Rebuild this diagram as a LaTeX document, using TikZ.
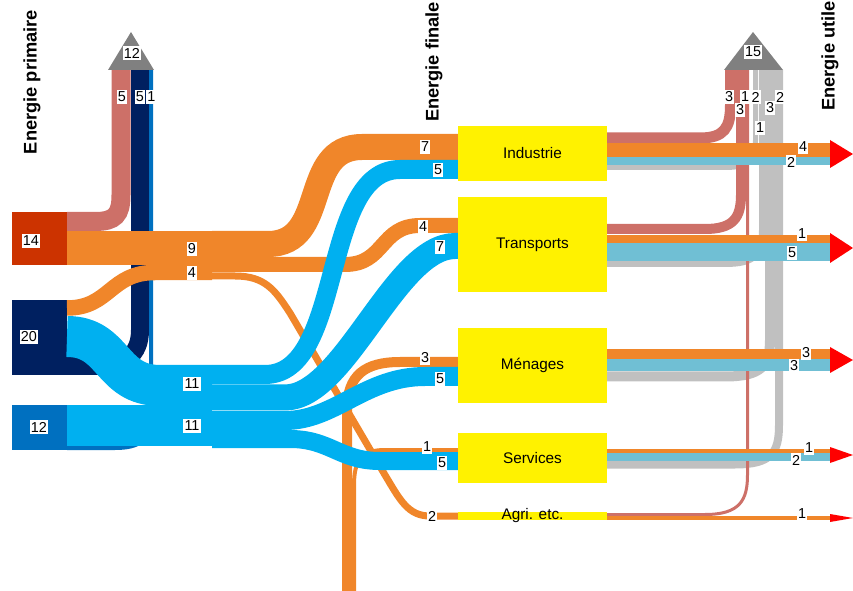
\documentclass[tikz,border=0pt]{standalone}
\usepackage{fontspec}
\setmainfont{Liberation Sans}
\definecolor{oilred}{HTML}{CC3300}
\definecolor{coalnavy}{HTML}{002060}
\definecolor{gasblue}{HTML}{0070C0}
\definecolor{fuelorange}{HTML}{F0862A}
\definecolor{elecblue}{HTML}{00B0F0}
\definecolor{losspink}{HTML}{CD7068}
\definecolor{lossgray}{HTML}{C0C0C0}
\definecolor{usefulblue}{HTML}{70BFD4}
\definecolor{trigray}{HTML}{808080}
\tikzset{
  bw/.style={line width=#1*0.75pt},
  num/.style={fill=white, inner xsep=0.8pt, inner ysep=1.2pt, font=\fontsize{10.8}{11}\selectfont},
  finbox/.style={fill=yellow, minimum width=111.75pt, inner sep=0pt, font=\fontsize{11.5}{12}\selectfont},
  srcbox/.style={minimum width=41.25pt, inner sep=0pt},
  stagetitle/.style={rotate=90, font=\fontsize{13.7}{14}\selectfont\bfseries},
  arrowhead/.style={fill=red}
}
\begin{document}
\begin{tikzpicture}[x=0.75pt, y=-0.75pt]
	\useasboundingbox (0,0) rectangle (853,591);
	% pertes, cote primaire
	\draw[losspink, bw=19] (67,221.5) -- (95,221.5) .. controls (115,221.5) and (121,215) .. (121,195) -- (121,70);
	\draw[coalnavy, bw=18] (67,366) -- (95,366) .. controls (125,366) and (140,355) .. (140,330) -- (140,70);
	\draw[gasblue, bw=4] (67,448) -- (115,448) .. controls (140,448) and (151,440) .. (151,415) -- (151,70);
	\fill[trigray] (108,70) -- (131,32) -- (154,70) -- cycle;
	% pertes, cote final
	\draw[lossgray, bw=5] (607,167.5) -- (725,167.5) .. controls (750,167.5) and (755.5,160) .. (755.5,140) -- (755.5,70);
	\draw[lossgray, bw=6] (607,264) -- (725,264) .. controls (755,264) and (762,255) .. (762,230) -- (762,70);
	\draw[lossgray, bw=10] (607,376.5) -- (725,376.5) .. controls (762,376.5) and (770,365) .. (770,340) -- (770,70);
	\draw[lossgray, bw=8] (607,464.5) -- (735,464.5) .. controls (772,464.5) and (779,452) .. (779,425) -- (779,70);
	\draw[losspink, bw=11] (607,138) -- (700,138) .. controls (724,138) and (730.5,128) .. (730.5,105) -- (730.5,70);
	\draw[losspink, bw=10] (607,229) -- (705,229) .. controls (733,229) and (741,218) .. (741,195) -- (741,70);
	\draw[losspink, bw=3] (607,514.5) -- (705,514.5) .. controls (740,514.5) and (747.5,500) .. (747.5,475) -- (747.5,70);
	\fill[trigray] (724,70) -- (753,32) -- (783,70) -- cycle;
	% energie primaire
	\node (oil) [srcbox, fill=oilred, minimum height=39.75pt] at (39.5,238.5) {};
	\node (coal) [srcbox, fill=coalnavy, minimum height=56.25pt] at (39.5,337.5) {};
	\node (gas) [srcbox, fill=gasblue, minimum height=33.75pt] at (39.5,427.5) {};
	\draw[fuelorange, bw=34] (67,248) -- (212,248);
	\draw[fuelorange, bw=15.5] (67,308) .. controls (110,308) and (110,272.5) .. (155,272.5) -- (212,272.5);
	\draw[elecblue, bw=41] (67,336.5) .. controls (115,336.5) and (110,385.5) .. (160,385.5) -- (212,385.5);
	\draw[elecblue, bw=41] (67,425.5) -- (212,425.5);
	% vers energie finale
	\draw[fuelorange, bw=10] (347,591) -- (347,410) .. controls (347,375) and (365,362) .. (400,362) -- (458,362);
	\draw[fuelorange, bw=4] (354,591) -- (354,485) .. controls (354,460) and (362,450) .. (385,450) -- (458,450);
	\draw[fuelorange, bw=26] (212,244) -- (268,244) .. controls (330,244) and (300,147) .. (362,147) -- (458,147);
	\draw[fuelorange, bw=15] (212,264.5) -- (345,264.5) .. controls (385,264.5) and (380,225.5) .. (420,225.5) -- (458,225.5);
	\draw[fuelorange, bw=7] (212,276) -- (235,276) .. controls (265,276) and (275,290) .. (290,313) -- (385,475) .. controls (400,500) and (408,516) .. (430,516) -- (458,516);
	\draw[elecblue, bw=18] (212,439) -- (290,439) .. controls (330,439) and (340,461) .. (380,461) -- (458,461);
	\draw[elecblue, bw=19] (212,420.5) -- (285,420.5) .. controls (335,420.5) and (365,376.5) .. (425,376.5) -- (458,376.5);
	\draw[elecblue, bw=26] (212,397.5) -- (285,397.5) .. controls (345,397.5) and (395,246) .. (455,246) -- (458,246);
	\draw[elecblue, bw=19] (212,374.5) -- (265,374.5) .. controls (345,374.5) and (320,169.5) .. (400,169.5) -- (458,169.5);
	% energie finale
	\node (ind) [finbox, minimum height=41.25pt] at (532.5,153.5) {Industrie};
	\node (tra) [finbox, minimum height=71.25pt] at (532.5,244.5) {Transports};
	\node (men) [finbox, minimum height=56.25pt] at (532.5,365.5) {Ménages};
	\node (ser) [finbox, minimum height=37.5pt] at (532.5,458) {Services};
	\node (agr) [finbox, minimum height=6pt] at (532.5,516) {};
	\node (agrtxt) [font=\fontsize{11.5}{12}\selectfont, inner sep=0pt] at (agr.center) {Agri. etc.};
	% energie utile
	\draw[fuelorange, bw=14] (607,150) -- (830,150);
	\draw[usefulblue, bw=8] (607,161) -- (830,161);
	\draw[fuelorange, bw=8] (607,239) -- (830,239);
	\draw[usefulblue, bw=18] (607,252) -- (830,252);
	\draw[fuelorange, bw=10] (607,354) -- (830,354);
	\draw[usefulblue, bw=12] (607,365) -- (830,365);
	\draw[fuelorange, bw=4] (607,451) -- (830,451);
	\draw[usefulblue, bw=8] (607,457) -- (830,457);
	\draw[fuelorange, bw=4] (607,518) -- (830,518);
	\fill[arrowhead] (830,140) -- (853,154) -- (830,168) -- cycle;
	\fill[arrowhead] (830,233) -- (853,248) -- (830,263) -- cycle;
	\fill[arrowhead] (830,347) -- (853,360) -- (830,373) -- cycle;
	\fill[arrowhead] (830,447) -- (853,455) -- (830,463) -- cycle;
	\fill[arrowhead] (830,514) -- (853,518) -- (830,522) -- cycle;
	% valeurs
	\node (l14) [num] at (31,241) {14};
	\node (l20) [num] at (29,337) {20};
	\node (l12) [num] at (39,427) {12};
	\node (lt12) [num] at (132,53) {12};
	\node (lc5a) [num] at (122,97) {5};
	\node (lc5b) [num] at (140,97) {5};
	\node (lc1) [num] at (151.5,97) {1};
	\node (l9) [num] at (192,249) {9};
	\node (l4) [num] at (192,273) {4};
	\node (l11a) [num] at (192,384) {11};
	\node (l11b) [num] at (192,426) {11};
	\node (i7) [num] at (425,147) {7};
	\node (i5) [num] at (438,170) {5};
	\node (t4) [num] at (423,227) {4};
	\node (t7) [num] at (440,247) {7};
	\node (m3) [num] at (425,358) {3};
	\node (m5) [num] at (440,379) {5};
	\node (s1) [num] at (427,447) {1};
	\node (s5) [num] at (442,463) {5};
	\node (a2) [num] at (432,516) {2};
	\node (oi4) [num] at (803,147) {4};
	\node (oi2) [num] at (791,162) {2};
	\node (ot1) [num] at (802,234) {1};
	\node (ot5) [num] at (792,253) {5};
	\node (om3a) [num] at (806,353) {3};
	\node (om3b) [num] at (794,366) {3};
	\node (os1) [num] at (809,448) {1};
	\node (os2) [num] at (796,460) {2};
	\node (oa1) [num] at (802,514) {1};
	\node (rt15) [num] at (753,52) {15};
	\node (rc3a) [num] at (729,97) {3};
	\node (rc3b) [num] at (740,110) {3};
	\node (rc1a) [num] at (745,97) {1};
	\node (rc2a) [num] at (755.5,97) {2};
	\node (rc3c) [num] at (770,108) {3};
	\node (rc2b) [num] at (780,97) {2};
	\node (rc1b) [num] at (760,128) {1};
	% titres
	\node (tprim) [stagetitle] at (32,82) {Energie primaire};
	\node (tfin) [stagetitle] at (434,62) {Energie finale};
	\node (tutil) [stagetitle] at (830,56) {Energie utile};
\end{tikzpicture}
\end{document}
